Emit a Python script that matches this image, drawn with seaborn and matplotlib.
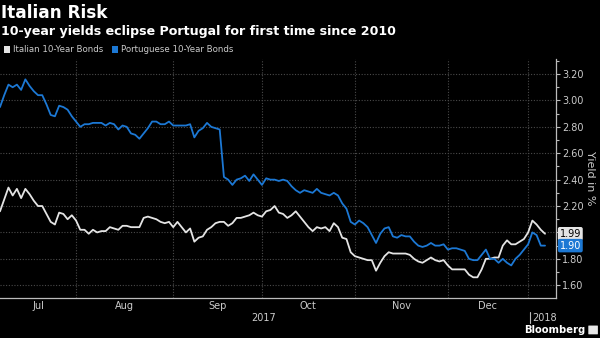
import numpy as np
import pandas as pd
import matplotlib
matplotlib.use("Agg")
import matplotlib.pyplot as plt
import matplotlib.patches as mpatches
import matplotlib.lines as mlines
import matplotlib.transforms as mtransforms
from matplotlib.ticker import MultipleLocator, FuncFormatter
import seaborn as sns

# Trading calendar for the period shown
start_date = "2017-07-06"
end_date = "2018-01-08"
market_holidays = ["2017-12-25", "2017-12-26", "2018-01-01"]

# Daily 10-year government bond yields, %
italy_yield = [
    2.16, 2.25, 2.34, 2.28, 2.33, 2.26, 2.33, 2.29, 2.24, 2.20,
    2.20, 2.14, 2.08, 2.06, 2.15, 2.14, 2.10, 2.13, 2.09, 2.02,
    2.02, 1.99, 2.02, 2.00, 2.01, 2.01, 2.04, 2.03, 2.02, 2.05,
    2.05, 2.04, 2.04, 2.04, 2.11, 2.12, 2.11, 2.10, 2.08, 2.07,
    2.08, 2.04, 2.08, 2.04, 2.00, 2.03, 1.93, 1.96, 1.97, 2.02,
    2.04, 2.07, 2.08, 2.08, 2.05, 2.07, 2.11, 2.11, 2.12, 2.13,
    2.15, 2.13, 2.12, 2.16, 2.17, 2.20, 2.15, 2.14, 2.11, 2.13,
    2.16, 2.12, 2.08, 2.04, 2.01, 2.04, 2.03, 2.04, 2.01, 2.07,
    2.04, 1.96, 1.95, 1.85, 1.82, 1.81, 1.80, 1.79, 1.79, 1.71,
    1.77, 1.82, 1.85, 1.84, 1.84, 1.84, 1.84, 1.83, 1.80, 1.78,
    1.77, 1.79, 1.81, 1.79, 1.78, 1.79, 1.75, 1.72, 1.72, 1.72,
    1.72, 1.68, 1.66, 1.66, 1.72, 1.80, 1.80, 1.81, 1.81, 1.90,
    1.94, 1.91, 1.91, 1.93, 1.95, 2.00, 2.09, 2.06, 2.02, 1.99,
]
portugal_yield = [
    2.95, 3.04, 3.12, 3.10, 3.12, 3.08, 3.16, 3.11, 3.07, 3.04,
    3.04, 2.97, 2.89, 2.88, 2.96, 2.95, 2.93, 2.88, 2.84, 2.80,
    2.82, 2.82, 2.83, 2.83, 2.83, 2.81, 2.83, 2.82, 2.78, 2.81,
    2.80, 2.75, 2.74, 2.71, 2.75, 2.79, 2.84, 2.84, 2.82, 2.82,
    2.84, 2.81, 2.81, 2.81, 2.81, 2.82, 2.72, 2.77, 2.79, 2.83,
    2.80, 2.79, 2.78, 2.42, 2.40, 2.36, 2.40, 2.41, 2.43, 2.39,
    2.44, 2.40, 2.36, 2.41, 2.40, 2.40, 2.39, 2.40, 2.39, 2.35,
    2.32, 2.30, 2.32, 2.31, 2.30, 2.33, 2.30, 2.29, 2.28, 2.30,
    2.28, 2.22, 2.18, 2.08, 2.06, 2.09, 2.07, 2.04, 1.98, 1.92,
    1.99, 2.03, 2.04, 1.97, 1.96, 1.98, 1.97, 1.97, 1.93, 1.90,
    1.89, 1.90, 1.92, 1.90, 1.90, 1.91, 1.87, 1.88, 1.88, 1.87,
    1.86, 1.80, 1.79, 1.79, 1.83, 1.87, 1.80, 1.80, 1.77, 1.80,
    1.77, 1.75, 1.80, 1.83, 1.87, 1.91, 2.00, 1.98, 1.90, 1.90,
]

series_names = ["Italian 10-Year Bonds", "Portuguese 10-Year Bonds"]
series_colors = ["#e4e4e4", "#1c78d4"]
label_text_colors = ["#000000", "#ffffff"]
y_ticks = [1.6, 1.8, 2.0, 2.2, 2.4, 2.6, 2.8, 3.0, 3.2]
y_ticks_unlabelled = [2.0]  # sits under the last-value tags

title = "Italian Risk"
subtitle = "10-year yields eclipse Portugal for first time since 2010"
y_label = "Yield in %"
source = "Bloomberg"

# ---- data frame on a trading-day axis ----
dates = pd.bdate_range(start_date, end_date)
dates = dates[~dates.isin(pd.to_datetime(market_holidays))]
day = np.arange(len(dates))
df = pd.concat([
    pd.DataFrame({"day": day, "date": dates, "yield": vals, "series": name})
    for name, vals in zip(series_names, [italy_yield, portugal_yield])
], ignore_index=True)

sns.set_theme(style="dark")
plt.rcParams["font.family"] = ["DejaVu Sans"]

fig = plt.figure(figsize=(6.0, 3.38), dpi=100, facecolor="black")
ax = fig.add_axes([0.0, 0.1183, 0.9267, 0.7071])
ax.set_facecolor("black")

sns.lineplot(data=df, x="day", y="yield", hue="series",
             palette=dict(zip(series_names, series_colors)),
             linewidth=1.3, legend=False, ax=ax, zorder=3)

ax.set_xlim(0, 131.6)
ax.set_ylim(1.503, 3.314)

# ---- x axis: month boundaries as gridlines, month names centred ----
month_start = [i for i in range(1, len(dates)) if dates[i].month != dates[i - 1].month]
edges = [0] + month_start + [len(dates) - 1]
centers, names = [], []
for a, b in zip(edges[:-1], edges[1:]):
    if b - a >= 10:
        centers.append((a + b) / 2)
        names.append(dates[a].strftime("%b"))
ax.set_xticks(month_start)
ax.set_xticklabels([])
ax.set_xticks(centers, minor=True)
ax.set_xticklabels(names, minor=True)
ax.tick_params(axis="x", which="major", length=0)
ax.tick_params(axis="x", which="minor", length=0, labelsize=7,
               labelcolor="#cccccc", pad=2.5)
ax.set_xlabel("")

# year labels below the months
year_tf = mtransforms.blended_transform_factory(ax.transData, fig.transFigure)
year_break = [i for i in month_start if dates[i].year != dates[i - 1].year][0]
year_y = 1 - 318 / 338
ax.text(year_break / 2, year_y, str(dates[0].year), transform=year_tf,
        ha="center", va="center", fontsize=7, color="#cccccc")
ax.text(year_break + 1.0, year_y, str(dates[year_break].year),
        transform=year_tf, ha="left", va="center", fontsize=7, color="#cccccc")
fig.add_artist(mlines.Line2D([year_break + 0.5, year_break + 0.5],
                             [1 - 312 / 338, 1 - 323 / 338],
                             transform=year_tf, color="#bbbbbb", lw=0.8))

# ---- y axis on the right ----
ax.yaxis.tick_right()
ax.yaxis.set_label_position("right")
ax.set_yticks(y_ticks)
ax.yaxis.set_major_formatter(FuncFormatter(
    lambda v, p: "" if any(abs(v - u) < 1e-9 for u in y_ticks_unlabelled) else f"{v:.2f}"))
ax.yaxis.set_minor_locator(MultipleLocator(0.1))
ax.tick_params(axis="y", which="major", length=3, width=0.8, color="#bbbbbb",
               labelcolor="#cccccc", labelsize=7, pad=1.5)
ax.tick_params(axis="y", which="minor", length=2, width=0.8, color="#bbbbbb")
ax.set_ylabel(y_label, rotation=270, fontsize=8, color="#cccccc")
ax.yaxis.label.set_verticalalignment("center")
ax.yaxis.label.set_horizontalalignment("center")
ax.yaxis.set_label_coords(1.061, 0.50)

ax.grid(which="major", axis="both", color="#4a4a4a",
        linestyle=(0, (1, 1.5)), linewidth=0.8)
ax.grid(which="minor", visible=False)
for side in ["top", "left"]:
    ax.spines[side].set_visible(False)
for side in ["right", "bottom"]:
    ax.spines[side].set_visible(True)
    ax.spines[side].set_color("#bbbbbb")
    ax.spines[side].set_linewidth(0.9)

# ---- last-value tags ----
tag_tf = mtransforms.blended_transform_factory(ax.transAxes, ax.transData)
for vals, col, tcol in zip([italy_yield, portugal_yield], series_colors, label_text_colors):
    ax.text(1.0065, vals[-1], f"{vals[-1]:.2f}", transform=tag_tf,
            ha="left", va="center", fontsize=7, color=tcol, zorder=10,
            clip_on=False,
            bbox=dict(boxstyle="round,pad=0.18,rounding_size=0.2",
                      fc=col, ec="none"))

# ---- titles and legend ----
fig.text(0.002, 1 - 18 / 338, title, fontsize=12.2, fontweight="bold",
         color="white", va="baseline", ha="left")
fig.text(0.002, 1 - 34.5 / 338, subtitle, fontsize=9.1, fontweight="bold",
         color="white", va="baseline", ha="left")

handles = [mpatches.Patch(facecolor=c, edgecolor="none") for c in series_colors]
fig.legend(handles, series_names, loc="upper left",
           bbox_to_anchor=(0.006, 1 - 45.5 / 338), ncol=2, frameon=False,
           handlelength=0.75, handleheight=0.75, handletextpad=0.35,
           columnspacing=1.0, fontsize=6.2, labelcolor="#cccccc",
           borderpad=0, borderaxespad=0)

# ---- source mark ----
fig.text(0.975, 1 - 330 / 338, source, fontsize=7.2, fontweight="bold",
         color="white", ha="right", va="center")
fig.add_artist(mpatches.FancyBboxPatch((0.9815, 1 - 334 / 338), 0.014, 0.024,
                                       boxstyle="round,pad=0.001",
                                       transform=fig.transFigure,
                                       fc="#e8e8e8", ec="none"))

fig.savefig("out.png", dpi=100, facecolor="black")
